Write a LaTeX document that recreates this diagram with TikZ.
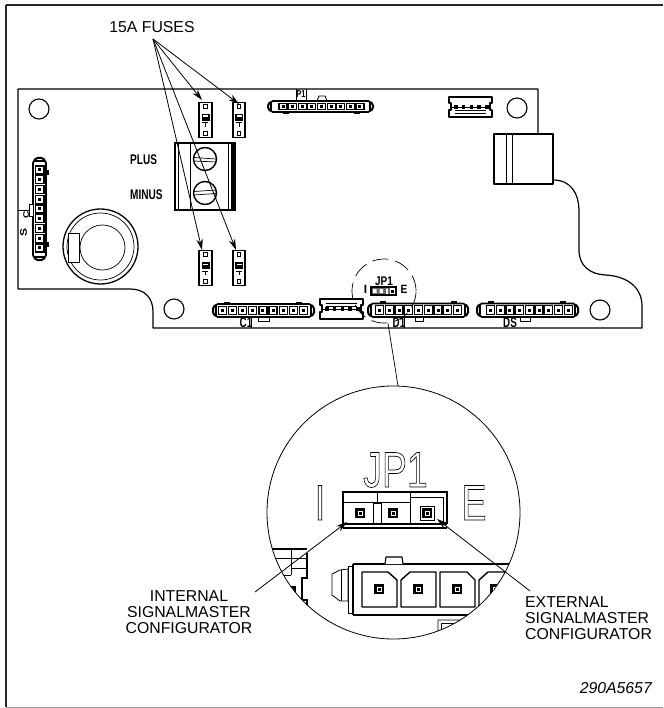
\documentclass[tikz,border=0pt]{standalone}
\usepackage{fontspec}
\usepackage{graphicx}
\setmainfont{Liberation Sans}
\newcommand{\outl}{\special{pdf:code 1 Tr 0.7 w}}
\newcommand{\outloff}{\special{pdf:code 0 Tr 1 w}}
\usetikzlibrary{arrows.meta}
\tikzset{
  x=1pt,y=-1pt,
  heavy/.style={line width=1.7pt,line join=round},
  lbl/.style={inner sep=0pt,font=\fontsize{15.8}{16}\selectfont,align=center},
  lead/.style={line width=0.8pt,-{Stealth[length=11pt,width=6.5pt]}},
  hole/.style={circle,draw,line width=1.1pt,minimum size=20pt,inner sep=0pt},
  conlabel/.style={inner sep=0pt,font=\fontsize{14}{14}\selectfont\bfseries},
  biglabel/.style={inner sep=0pt,anchor=base,font=\fontsize{50}{50}\selectfont},
}
% horizontal connector: x0 x1 ytop ybot firstpin spacing
\newcommand{\hconn}[6]{%
  \draw[heavy,rounded corners=1.5pt] (#1+3,#3) rectangle (#2-3,#4);
  \draw[line width=2pt,rounded corners=1.5pt] (#1+3,#3+1) -- (#1,#3+3) -- (#1,#4-3) -- (#1+3,#4-1);
  \draw[line width=2pt,rounded corners=1.5pt] (#2-3,#3+1) -- (#2,#3+3) -- (#2,#4-3) -- (#2-3,#4-1);
  \foreach \i in {0,...,8}{%
    \pgfmathsetmacro{\px}{#5+\i*#6}
    \draw[line width=1.2pt,fill=white] (\px-4,#3+2.2) rectangle (\px+4,#4-2.2);
    \fill (\px-1.5,{(#3+#4)/2-1.5}) rectangle (\px+1.5,{(#3+#4)/2+1.5});
  }%
}
% fuse at centre x, top y
\newcommand{\fuse}[3]{%
  \node[draw,line width=1.9pt,fill=white,minimum width=12.5pt,minimum height=35pt,inner sep=0pt] (#3) at (#1,#2+18) {};
  \draw[line width=0.9pt] (#1-1.7,#2+2.8) rectangle (#1+1.7,#2+6.2);
  \draw[line width=0.9pt] (#1-1.7,#2+29.8) rectangle (#1+1.7,#2+33.2);
  \fill (#1-4,#2+12) rectangle (#1+4,#2+19);
  \fill[white] (#1-2.5,#2+13.5) rectangle (#1+2.5,#2+15);
  \draw[line width=1pt] (#1-3.5,#2+21) -- (#1+2.5,#2+21) (#1,#2+21) -- (#1,#2+25);
}
\newcommand{\bigpin}[2]{%
  \fill (#1-5.2,#2-5.2) rectangle (#1+5.2,#2+5.2);
  \draw[white,line width=0.5pt] (#1-2,#2-2) rectangle (#1+2,#2+2);
}
\newcommand{\chambered}[1]{\draw[line width=1.4pt,line join=round] #1 -- cycle;}
\begin{document}
\begin{tikzpicture}
\useasboundingbox (0,0) rectangle (663,708);
% frame
\draw[line width=2pt,color=black!85] (6,5) -- (663,5);
\draw[line width=2pt,color=black!85] (6,5) -- (6,707);
\draw[line width=1pt,color=black!40] (6,707.5) -- (663,707.5);
% board
\draw[line width=1.2pt,line join=round]
  (538,133) -- (538,89) -- (18,89) -- (18,289) -- (130,289)
  .. controls (145,289) and (153,298) .. (153,312) -- (153,328) -- (642,328) -- (642,306)
  .. controls (642,288) and (628,276) .. (605,275)
  .. controls (590,274) and (579,266) .. (579,250) -- (579,212)
  .. controls (579,192) and (570,180) .. (553,180);
% holes
\node[hole] (h1) at (39,109) {};
\node[hole] (h2) at (174,309) {};
\node[hole] (h3) at (517,108) {};
\node[hole] (h4) at (600,310) {};
% block top right
\draw[line width=1.5pt,line join=round,fill=white] (494,134) rectangle (553,184);
\draw[line width=0.7pt] (506,134) -- (506,184) (512,134) -- (512,184);
% terminal block
\draw[line width=1.2pt,fill=white] (175,143) rectangle (235,210);
\draw[line width=0.6pt] (178,143) -- (178,210) (190,143) -- (190,210) (228,143) -- (228,210);
\fill (231,143) rectangle (235.5,210);
\node[circle,draw,line width=1.4pt,fill=white,minimum size=23pt,inner sep=0pt] (s1) at (205,159) {};
\node[circle,draw,line width=1.4pt,fill=white,minimum size=23pt,inner sep=0pt] (s2) at (205,193) {};
\draw[line width=0.7pt] (194,157.5) -- (216,159) (194,161) -- (216,162);
\draw[line width=0.7pt] (194,191.5) -- (216,190) (194,195) -- (216,193.5);
\node[inner sep=0pt,anchor=base west] (plus) at (130,165) {\fontsize{14}{14}\selectfont\bfseries\scalebox{0.72}[1]{PLUS}};
\node[inner sep=0pt,anchor=base west] (minus) at (130,200) {\fontsize{14}{14}\selectfont\bfseries\scalebox{0.72}[1]{MINUS}};
% fuses
\fuse{205.5}{102}{f1}
\fuse{239}{102}{f2}
\fuse{205.5}{250}{f3}
\fuse{239}{250}{f4}
% battery
\draw[line width=1.3pt] (100.5,246.5) circle (37.5);
\draw[line width=0.7pt] (100.5,246.5) circle (33.5);
\draw[line width=0.7pt] (102.5,247.5) circle (22.5);
\draw[line width=0.8pt,fill=white] (68,233) rectangle (79.5,262);
% left vertical connector
\draw[heavy,rounded corners=2pt] (33,161) rectangle (46,257);
\draw[line width=2pt,rounded corners=1.5pt] (34,161) -- (36,158) -- (43,158) -- (45,161);
\draw[line width=2pt,rounded corners=1.5pt] (34,257) -- (36,260) -- (43,260) -- (45,257);
\foreach \i in {0,...,8}{%
  \pgfmathsetmacro{\py}{170+\i*9.75}
  \draw[line width=1.2pt,fill=white] (35.5,\py-4) rectangle (44,\py+4);
  \fill (38.3,\py-1.5) rectangle (41.3,\py+1.5);
}
\fill (46,170) rectangle (48.5,175);
\fill (46,242) rectangle (48.5,247);
\draw[line width=0.9pt,fill=white] (29,204) rectangle (33,216);
\draw[line width=0.9pt] (18,210) -- (29,210);
\node[inner sep=0pt,rotate=90,font=\fontsize{10}{10}\selectfont\bfseries] (sc) at (26,215) {\scalebox{1}[0.8]{C}};
\node[inner sep=0pt,rotate=90,font=\fontsize{12}{12}\selectfont\bfseries] (sl) at (23.5,232) {\scalebox{1}[0.8]{S}};
% top connector P1
\hconn{268}{373}{101}{112}{283}{9.62}
\draw[line width=0.9pt] (317,101) -- (319,96) -- (325,96) -- (327,101);
\fill (283,112) rectangle (289,114);
\fill (354,112) rectangle (360,114);
\draw[line width=0.9pt] (296,89) -- (296,101) (306,89) -- (306,101);
\node[inner sep=0pt,font=\fontsize{10}{10}\selectfont\bfseries] (p1) at (301,94.5) {\scalebox{0.75}[1]{P1}};
% C1
\hconn{213}{314}{304}{317}{222.5}{10.1}
\fill (224,301.5) rectangle (230,304);
\fill (296,301.5) rectangle (302,304);
\draw[line width=1pt] (258,317) -- (258,321) -- (269,321) -- (269,317);
\draw[line width=0.9pt] (251,317) -- (251,328);
\node[conlabel] (c1) at (246,323) {\scalebox{0.7}[1]{C1}};
% D1
\hconn{368}{468}{303.5}{317}{379.5}{9.75}
\fill (380,301) rectangle (386,303.5);
\fill (451,301) rectangle (457,303.5);
\draw[line width=1pt] (415,317) -- (415,321) -- (423,321) -- (423,317);
\draw[line width=0.9pt] (404,317) -- (404,328);
\node[conlabel] (d1) at (399,323) {\scalebox{0.7}[1]{D1}};
% DS
\hconn{477}{578}{303.5}{317}{490.5}{9.7}
\fill (488,301) rectangle (494,303.5);
\fill (560,301) rectangle (566,303.5);
\draw[line width=1pt] (520,317) -- (520,321) -- (530,321) -- (530,317);
\node[conlabel] (ds) at (510,323) {\scalebox{0.7}[1]{DS}};
% small connectors
\foreach \xx/\yy in {449/97,320/299}{%
  \begin{scope}[shift={(\xx,\yy)}]
    \draw[line width=1.3pt,line join=round] (0,0) -- (43,0) -- (43,6) -- (41,6) -- (41,13) -- (43,13) -- (43,20) -- (0,20) -- (0,13) -- (2,13) -- (2,6) -- (0,6) -- cycle;
    \foreach \k in {0,...,4}{\fill (5+\k*7.8,8) rectangle (8.5+\k*7.8,12);}
    \draw[line width=0.7pt] (2,10) -- (41,10);
  \end{scope}
}
\draw[line width=0.9pt] (455,113) -- (486,113) (455,110) -- (486,110);
\draw[line width=0.9pt] (326,303) -- (357,303) (326,306) -- (357,306);
% jumper small
\node[inner sep=0pt,font=\fontsize{12.5}{12.5}\selectfont\bfseries] (jp) at (384,281) {\scalebox{0.8}[1]{JP1}};
\node[inner sep=0pt,font=\fontsize{12}{12}\selectfont\bfseries] (ji) at (365.5,289) {I};
\node[inner sep=0pt,font=\fontsize{12}{12}\selectfont\bfseries] (je) at (404,289) {\scalebox{0.85}[1]{E}};
\draw[line width=1.1pt,fill=black!60] (371,287) rectangle (396,295);
\fill[white] (373,289) rectangle (376.5,293) (379.5,289) rectangle (383,293) (386,288.5) rectangle (388,294);
\fill[white] (389.5,288) rectangle (394.5,294);
\fill (390.5,289.5) rectangle (393.5,292.5);
% dashed circle
\node[circle,draw,dash pattern=on 16pt off 7pt,line width=0.7pt,minimum size=64pt,inner sep=0pt] (zoomc) at (384,291) {};
% big circle
\node[circle,draw,line width=0.8pt,minimum size=253pt,inner sep=0pt] (bigc) at (393.5,512.5) {};
\draw[line width=0.7pt] (zoomc.south) ++(4,0) coordinate (ls) -- (bigc.88);
% big JP1
\node[biglabel] (bjp) at (395.5,487) {\outl\scalebox{0.75}[1]{JP1}\outloff};
\node[biglabel] (bi) at (320,520) {\outl\scalebox{0.75}[1]{I}\outloff};
\node[biglabel] (be) at (474,520) {\outl\scalebox{0.75}[1]{E}\outloff};
% big jumper
\draw[line width=1.3pt] (343,524) -- (343,492) -- (447,492) -- (447,524);
\draw[line width=1.3pt] (343,524) -- (447,524) (343,528) -- (447,528);
\draw[line width=0.7pt] (343,502) -- (377,502) (377,492) -- (377,524) (377,502) -- (410,502) (410,492) -- (410,524);
\draw[line width=0.8pt] (410,497.5) -- (443,497.5) -- (443,524);
\draw[line width=0.7pt,fill=white] (373,503) rectangle (381,523.5);
\bigpin{360}{513}
\bigpin{393}{513}
\bigpin{427}{513}
\draw[line width=0.5pt] (420,506) rectangle (434,520);
% inside circle, clipped
\begin{scope}
  \clip (393.5,512.5) circle (126.4);
  \draw[line width=1.2pt] (353,564) -- (530,564) (353,615) -- (530,615) (353,564) -- (353,615);
  \draw[line width=0.9pt] (348,566) rectangle (353,613);
  \draw[line width=0.8pt,fill=white] (332,574) -- (340,570) -- (348,569) -- (348,601) -- (340,601) -- (332,595) -- cycle;
  \draw[line width=0.7pt] (341,569.5) -- (341,601);
  \draw[line width=1.1pt,fill=white] (385,564) -- (386,557) -- (402,557) -- (403,564);
  \chambered{(362,572) -- (388,572) -- (397,580) -- (397,607) -- (362,607)}
  \chambered{(410,572) -- (436,572) -- (436,607) -- (401,607) -- (401,580)}
  \chambered{(440,572) -- (467,572) -- (475,580) -- (475,607) -- (440,607)}
  \chambered{(488,572) -- (520,572) -- (520,607) -- (479,607) -- (479,580)}
  \bigpin{379}{589}\bigpin{418}{589}\bigpin{457}{589}\bigpin{495}{589}
  % left fragment
  \draw[line width=1.2pt] (260,549) -- (307,549);
  \draw[line width=0.8pt] (260,558) -- (291,558) (291,549) -- (291,575) (260,575) -- (291,575);
  \draw[line width=1.1pt] (307,553) -- (307,578) -- (302,578) -- (302,600) -- (307,600) -- (307,612);
  \draw[line width=0.6pt] (291,568) -- (307,568) (291,558) -- (307,558);
  \fill (288,586) rectangle (296,594);
  % D fragment
  \draw[line width=0.9pt] (438,650) -- (438,620) -- (460,620) .. controls (470,622) and (475,630) .. (478,650);
  \draw[line width=0.7pt] (441,650) -- (441,623) -- (458,623);
\end{scope}
% fuse arrows
\coordinate (src) at (153,39);
\coordinate (t1) at (202,100);
\coordinate (t2) at (239,104);
\coordinate (t3) at (202,250);
\coordinate (t4) at (236,250);
\draw[lead] (src) -- (t1);
\draw[lead] (src) -- (t2);
\draw[lead] (src) -- (t3);
\draw[lead] (src) -- (t4);
\node[lbl,anchor=base] (fuses) at (152,33) {15A FUSES};
% signal master labels
\node[lbl,anchor=north] (int) at (189,590.5) {INTERNAL\\SIGNALMASTER\\CONFIGURATOR};
\node[lbl,anchor=north west,align=left] (ext) at (525,596.5) {EXTERNAL\\SIGNALMASTER\\CONFIGURATOR};
\coordinate (is) at (255,592);
\coordinate (it) at (347,522);
\coordinate (es) at (530,591);
\coordinate (et) at (437,519);
\draw[lead] (is) -- (it);
\draw[lead] (es) -- (et);
\node[inner sep=0pt,anchor=base east,font=\fontsize{15.8}{16}\selectfont\itshape] (code) at (652,693) {290A5657};
\end{tikzpicture}
\end{document}
